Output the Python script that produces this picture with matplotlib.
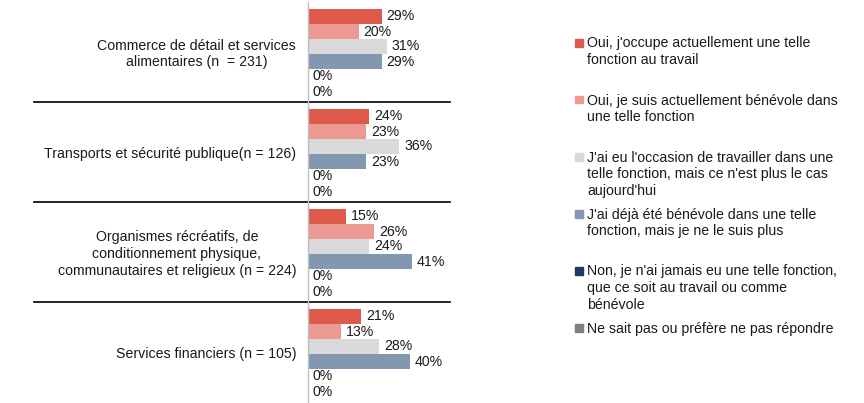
import matplotlib
matplotlib.use("Agg")
import matplotlib.pyplot as plt
from matplotlib.patches import Rectangle
import numpy as np

plt.rcParams['font.family'] = ['Liberation Sans', 'DejaVu Sans']

categories = [
    "Commerce de détail et services\nalimentaires (n  = 231)",
    "Transports et sécurité publique(n = 126)",
    "Organismes récréatifs, de\nconditionnement physique,\ncommunautaires et religieux (n = 224)",
    "Services financiers (n = 105)",
]
series_labels = [
    "Oui, j'occupe actuellement une telle\nfonction au travail",
    "Oui, je suis actuellement bénévole dans\nune telle fonction",
    "J'ai eu l'occasion de travailler dans une\ntelle fonction, mais ce n'est plus le cas\naujourd'hui",
    "J'ai déjà été bénévole dans une telle\nfonction, mais je ne le suis plus",
    "Non, je n'ai jamais eu une telle fonction,\nque ce soit au travail ou comme\nbénévole",
    "Ne sait pas ou préfère ne pas répondre",
]
s_oui_travail = [29, 24, 15, 21]
s_oui_benevole = [20, 23, 26, 13]
s_ancien_travail = [31, 36, 24, 28]
s_ancien_benevole = [29, 23, 41, 40]
s_non = [0, 0, 0, 0]
s_nsp = [0, 0, 0, 0]
series = [s_oui_travail, s_oui_benevole, s_ancien_travail, s_ancien_benevole, s_non, s_nsp]
colors = ['#E05A4B', '#EC9A91', '#D9D9D9', '#8497B0', '#1F3864', '#7F7F7F']

W, H = 864, 403
fig = plt.figure(figsize=(W / 100, H / 100), dpi=100)
ax_left, ax_right, ax_top, ax_bot = 308, 450, 2, 402
ax = fig.add_axes([ax_left / W, 1 - ax_bot / H, (ax_right - ax_left) / W, (ax_bot - ax_top) / H])

n_cat = len(categories)
bar_h = 0.15
top_gap = 0.07
txtcol = '#1a1a1a'
fs = 10.2
ls = 1.25

for j, vals in enumerate(series):
    ys = np.arange(n_cat) + top_gap + bar_h * j + bar_h / 2
    ax.barh(ys, vals, height=bar_h, color=colors[j], edgecolor='none')
    for y, v in zip(ys, vals):
        ax.text(v + 1.9, y, f"{v}%", va='center', ha='left', fontsize=fs, color=txtcol)

ax.set_xlim(0, 55.9)
ax.set_ylim(n_cat, 0)
ax.set_xticks([])
ax.set_yticks([])
for s in ['top', 'right', 'bottom']:
    ax.spines[s].set_visible(False)
ax.spines['left'].set_color('#BFBFBF')
ax.spines['left'].set_linewidth(1.0)

# category separators
x0 = (34 - ax_left) / (ax_right - ax_left)
tr = ax.get_yaxis_transform()
for k in range(1, n_cat):
    ax.plot([x0, 1.0], [k, k], transform=tr, color='black', lw=1.2, clip_on=False)

# category labels
lab_x = (296 - ax_left) / (ax_right - ax_left)
for i, c in enumerate(categories):
    ax.text(lab_x, i + 0.52, c, transform=tr, ha='right', va='center', multialignment='center',
            fontsize=fs, color=txtcol, linespacing=ls)

# legend
leg_y = [43, 100, 157, 214, 271, 328]
for lab, col, y in zip(series_labels, colors, leg_y):
    fig.patches.append(Rectangle((575 / W, 1 - (y + 3.5) / H), 7.5 / W, 7.5 / H,
                                 transform=fig.transFigure, color=col))
    fig.text(587 / W, 1 - (y - 6.5) / H, lab, ha='left', va='top', fontsize=fs, color=txtcol,
             linespacing=ls)

fig.savefig('out.png', dpi=100, facecolor='white')
